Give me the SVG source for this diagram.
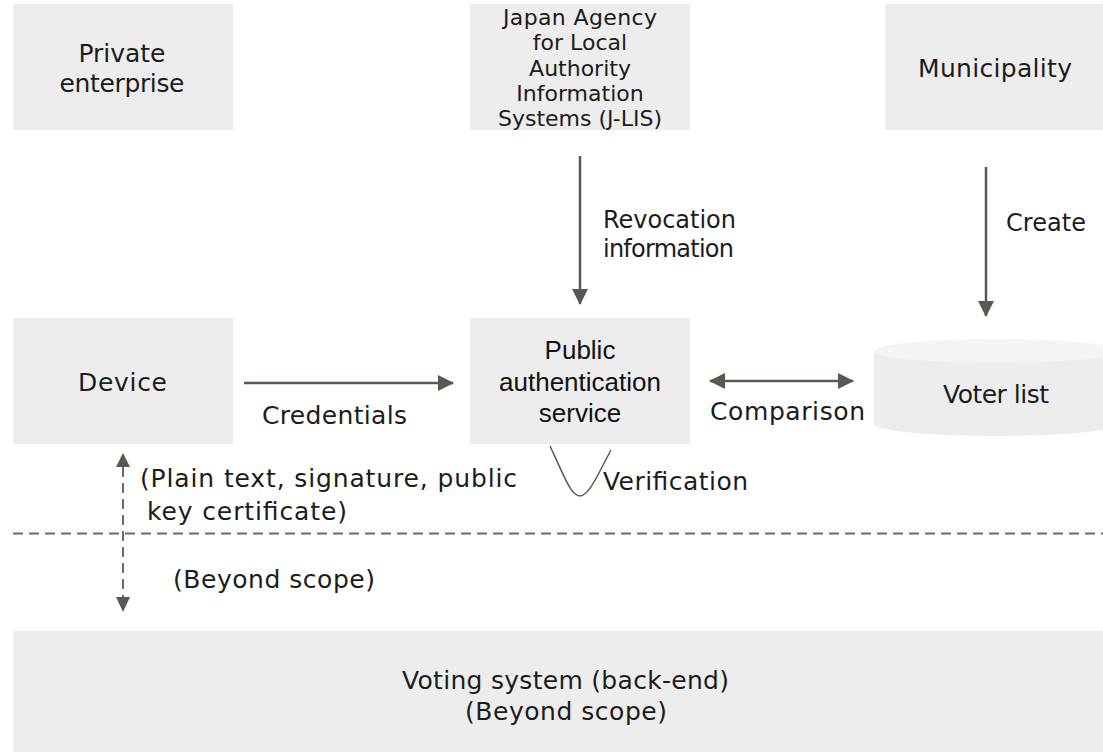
<svg xmlns="http://www.w3.org/2000/svg" width="1103" height="752" viewBox="0 0 1103 752">
<style>
.box{fill:#ededed}
.t{font-family:"DejaVu Sans","Liberation Sans",sans-serif;font-size:24px;fill:#1c1c1c}
.tb{font-family:"DejaVu Sans","Liberation Sans",sans-serif;font-size:25px;fill:#1c1c1c}
.tj{font-family:"DejaVu Sans","Liberation Sans",sans-serif;font-size:22px;fill:#1c1c1c}
.ta{font-family:"Liberation Sans",Arial,sans-serif;font-size:26px;fill:#111}
.c{text-anchor:middle}
.ln{stroke:#585a52;stroke-width:2.5;fill:none}
.dash{stroke:#6a6b64;stroke-width:2;fill:none;stroke-dasharray:10 6}
</style>
<defs>
<marker id="ah" viewBox="0 0 16 16" refX="15" refY="8" markerWidth="16" markerHeight="16" markerUnits="userSpaceOnUse" orient="auto-start-reverse">
<path d="M0,0 L16,8 L0,16 Z" fill="#585a52"/>
</marker>
</defs>

<g id="private-enterprise">
<rect class="box" x="13" y="4" width="220" height="126"/>
<text class="tb c" x="122" y="62" textLength="87">Private</text>
<text class="tb c" x="122" y="92" textLength="125">enterprise</text>
</g>

<g id="jlis">
<rect class="box" x="470" y="4" width="220" height="126"/>
<text class="tj c" x="580" y="25" textLength="154">Japan Agency</text>
<text class="tj c" x="580" y="50">for Local</text>
<text class="tj c" x="580" y="75.5">Authority</text>
<text class="tj c" x="580" y="101">Information</text>
<text class="tj c" x="580" y="126">Systems (J-LIS)</text>
</g>

<g id="municipality">
<rect class="box" x="885" y="4" width="218" height="126"/>
<text class="tb c" x="995" y="77" textLength="154">Municipality</text>
</g>

<g id="device">
<rect class="box" x="13" y="318" width="220" height="126"/>
<text class="tb c" x="122.5" y="391" textLength="89">Device</text>
</g>

<g id="public-auth">
<rect class="box" x="470" y="318" width="220" height="126"/>
<text class="ta c" x="580" y="359">Public</text>
<text class="ta c" x="580" y="391">authentication</text>
<text class="ta c" x="580" y="422">service</text>
</g>

<g id="voter-list">
<path d="M874,351 L874,424 A122,12 0 0 0 1118,424 L1118,351 Z" fill="#ededed"/>
<ellipse cx="996" cy="351" rx="122" ry="12" fill="#f4f4f4"/>
<text class="tb c" x="996" y="403" textLength="106">Voter list</text>
</g>

<g id="voting-system">
<rect class="box" x="13" y="631" width="1090" height="121"/>
<text class="tb c" x="565.5" y="689" textLength="327">Voting system (back-end)</text>
<text class="tb c" x="566" y="720" textLength="202">(Beyond scope)</text>
</g>

<g id="connectors">
<line class="ln" x1="580" y1="156" x2="580" y2="304" marker-end="url(#ah)"/>
<line class="ln" x1="986" y1="167" x2="986" y2="316" marker-end="url(#ah)"/>
<line class="ln" x1="244" y1="383" x2="453" y2="383" marker-end="url(#ah)"/>
<line class="ln" x1="710" y1="381" x2="853" y2="381" marker-start="url(#ah)" marker-end="url(#ah)"/>
<path d="M550,446 C565,478 571,496 580,496 C589,496 598,474 611,450" stroke="#585a52" stroke-width="1.5" fill="none"/>
<line class="dash" x1="123" y1="467" x2="123" y2="597"/>
<path d="M116,467 L123,453 L130,467 Z" fill="#585a52"/>
<path d="M116,597 L123,612 L130,597 Z" fill="#585a52"/>
<line class="dash" x1="13" y1="533.5" x2="1103" y2="533.5"/>
</g>

<g id="labels">
<text class="t" x="603" y="228" textLength="133">Revocation</text>
<text class="t" x="603" y="257" textLength="131">information</text>
<text class="t" x="1006" y="231" textLength="80">Create</text>
<text class="tb" x="262" y="424" textLength="145">Credentials</text>
<text class="tb" x="710" y="420" textLength="155">Comparison</text>
<text class="tb" x="603" y="490" textLength="145">Verification</text>
<text class="tb" x="140" y="487" textLength="377">(Plain text, signature, public</text>
<text class="tb" x="147" y="520" textLength="200">key certificate)</text>
<text class="tb" x="173" y="588" textLength="202">(Beyond scope)</text>
</g>
</svg>
